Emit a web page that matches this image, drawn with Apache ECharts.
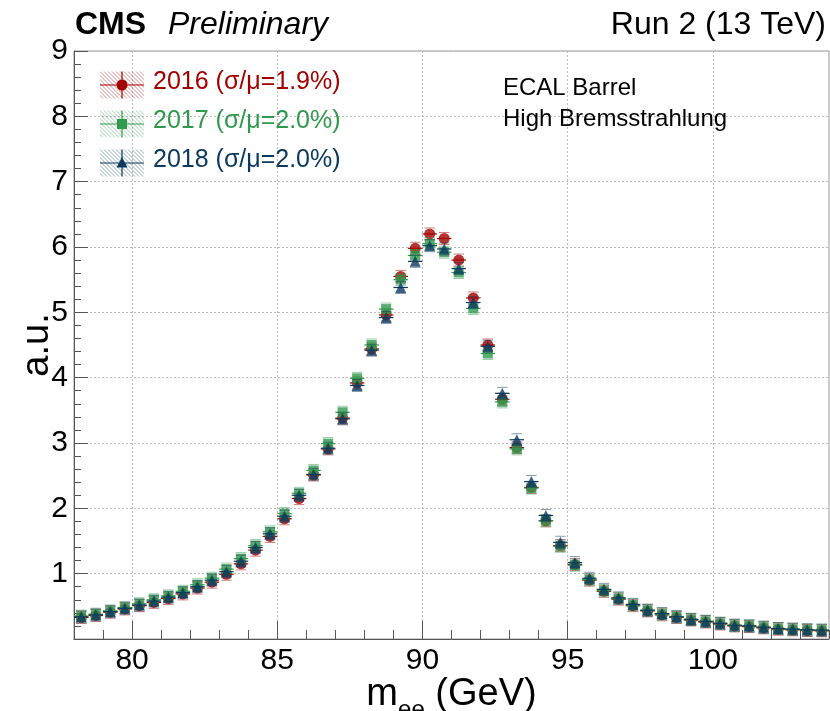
<!DOCTYPE html>
<html><head><meta charset="utf-8">
<script src="https://cdn.jsdelivr.net/npm/echarts@6/dist/echarts.min.js"></script>
<style>html,body{margin:0;padding:0;background:#fff}#c{width:830px;height:711px}</style>
</head><body><div id="c"></div>
<script>
// ---- data ----
const binCenters = [78.25,78.75,79.25,79.75,80.25,80.75,81.25,81.75,82.25,82.75,83.25,83.75,84.25,84.75,85.25,85.75,86.25,86.75,87.25,87.75,88.25,88.75,89.25,89.75,90.25,90.75,91.25,91.75,92.25,92.75,93.25,93.75,94.25,94.75,95.25,95.75,96.25,96.75,97.25,97.75,98.25,98.75,99.25,99.75,100.25,100.75,101.25,101.75,102.25,102.75,103.25,103.75];
const y2016 = [0.33,0.36,0.41,0.46,0.51,0.56,0.62,0.69,0.78,0.87,0.99,1.15,1.36,1.57,1.84,2.15,2.51,2.91,3.38,3.92,4.44,4.96,5.55,5.98,6.20,6.13,5.80,5.22,4.50,3.67,2.93,2.32,1.81,1.43,1.14,0.90,0.73,0.61,0.51,0.43,0.37,0.33,0.29,0.26,0.23,0.20,0.19,0.17,0.15,0.14,0.13,0.125];
const y2017 = [0.35,0.38,0.43,0.48,0.54,0.60,0.66,0.73,0.83,0.93,1.07,1.23,1.43,1.64,1.92,2.23,2.58,2.99,3.47,3.99,4.50,5.05,5.50,5.87,6.05,5.92,5.61,5.06,4.37,3.63,2.91,2.31,1.81,1.42,1.13,0.91,0.74,0.62,0.52,0.44,0.38,0.34,0.30,0.27,0.24,0.21,0.20,0.18,0.16,0.15,0.14,0.135];
const y2018 = [0.34,0.37,0.42,0.47,0.52,0.58,0.64,0.71,0.80,0.90,1.03,1.19,1.40,1.61,1.88,2.20,2.52,2.92,3.37,3.88,4.42,4.92,5.38,5.78,6.02,5.97,5.67,5.15,4.48,3.76,3.05,2.41,1.89,1.48,1.17,0.93,0.76,0.63,0.53,0.44,0.39,0.34,0.30,0.27,0.24,0.21,0.20,0.18,0.16,0.15,0.14,0.135];
const xTickLabels = [80,85,90,95,100];
const yTickLabels = [1,2,3,4,5,6,7,8,9];
const seriesNames = ['2016 (σ/μ=1.9%)','2017 (σ/μ=2.0%)','2018 (σ/μ=2.0%)'];
const binHalfWidth = 0.25;

// ---- style ----
const FONT = '"Liberation Sans", Arial, Helvetica, sans-serif';
const colors = ['#a30000','#2f994c','#0b3a60'];
const symbols = ['circle','rect','triangle'];
const symSizes = [11,10,11];

function pair(ys){ return binCenters.map((x,i)=>[x, ys[i]]); }
const sets = [y2016, y2017, y2018];

function hatch(color){
  const c = document.createElement('canvas'); c.width = 4; c.height = 4;
  const g = c.getContext('2d');
  g.strokeStyle = color; g.globalAlpha = 0.45; g.lineWidth = 1;
  g.beginPath();
  g.moveTo(0,0); g.lineTo(4,4);
  g.moveTo(-1,3); g.lineTo(1,5);
  g.moveTo(3,-1); g.lineTo(5,1);
  g.stroke();
  return c;
}

const series = [];
sets.forEach((ys, k)=>{
  const col = colors[k];
  series.push({
    type:'custom', name: seriesNames[k] + ' err', xAxisIndex:0, yAxisIndex:0, z: 2*k+1,
    silent:true, animation:false,
    data: pair(ys),
    renderItem(params, api){
      const x = api.value(0), y = api.value(1);
      const a = api.coord([x - binHalfWidth, y]);
      const b = api.coord([x + binHalfWidth, y]);
      const c = api.coord([x, y]);
      return { type:'group', children:[
        {type:'line', shape:{x1:a[0], y1:a[1], x2:b[0], y2:b[1]}, style:{stroke:col, lineWidth:1.2}},
        {type:'line', shape:{x1:a[0]+2, y1:c[1]-6, x2:b[0]-2, y2:c[1]-6}, style:{stroke:col, lineWidth:1, opacity:0.5}},
        {type:'line', shape:{x1:a[0]+2, y1:c[1]+6, x2:b[0]-2, y2:c[1]+6}, style:{stroke:col, lineWidth:1, opacity:0.5}}
      ]};
    }
  });
  series.push({
    type:'scatter', name: seriesNames[k], xAxisIndex:0, yAxisIndex:0, z: 2*k+2,
    symbol: symbols[k], symbolSize: symSizes[k], animation:false,
    itemStyle:{color:col},
    data: pair(ys)
  });
});

// legend graphics
const graphic = [];
const legendX = 100, legendW = 44, legendH = 27;
const legendYs = [85, 124, 163];
seriesNames.forEach((nm,k)=>{
  const cy = legendYs[k], col = colors[k];
  graphic.push({type:'rect', left:legendX, top:cy-legendH/2, shape:{width:legendW, height:legendH},
    style:{fill:{image:hatch(col), repeat:'repeat'}}, z:10});
  graphic.push({type:'line', shape:{x1:legendX, y1:cy, x2:legendX+legendW, y2:cy}, style:{stroke:col, lineWidth:1.2}, z:11});
  graphic.push({type:'line', shape:{x1:legendX+legendW/2, y1:cy-legendH/2, x2:legendX+legendW/2, y2:cy+legendH/2}, style:{stroke:col, lineWidth:1.2}, z:11});
  const mx = legendX + legendW/2;
  if(k===0) graphic.push({type:'circle', shape:{cx:mx, cy:cy, r:5.5}, style:{fill:col}, z:12});
  if(k===1) graphic.push({type:'rect', shape:{x:mx-5, y:cy-5, width:10, height:10}, style:{fill:col}, z:12});
  if(k===2) graphic.push({type:'polygon', shape:{points:[[mx,cy-6],[mx+5.5,cy+4.5],[mx-5.5,cy+4.5]]}, style:{fill:col}, z:12});
  graphic.push({type:'text', left:153, top:cy-15, style:{text:nm, font:'25px '+FONT, fill:col, verticalAlign:'top'}, z:12});
});
graphic.push({type:'text', left:503, top:76, style:{text:'ECAL Barrel', font:'24px '+FONT, fill:'#000'}, z:12});
graphic.push({type:'text', left:503, top:107, style:{text:'High Bremsstrahlung', font:'24px '+FONT, fill:'#000'}, z:12});
graphic.push({type:'text', left:75, top:9, style:{text:'CMS', font:'bold 32px '+FONT, fill:'#000'}, z:12});
graphic.push({type:'text', left:168, top:9, style:{text:'Preliminary', font:'italic 32px '+FONT, fill:'#000'}, z:12});
graphic.push({type:'text', right:4, top:9, style:{text:'Run 2 (13 TeV)', font:'32px '+FONT, fill:'#000'}, z:12});

const chart = echarts.init(document.getElementById('c'), null, {renderer:'canvas'});
chart.setOption({
  backgroundColor:'#fff',
  animation:false,
  grid:{left:74, right:1, top:51, bottom:72, show:true, borderColor:'#999', borderWidth:1, containLabel:false, outerBoundsMode:'none'},
  xAxis:[
    {type:'value', min:78, max:104, interval:1, position:'bottom',
     axisLine:{show:true, lineStyle:{color:'#555', width:1}},
     axisTick:{show:true, inside:true, length:9, lineStyle:{color:'#555'}},
     axisLabel:{show:false}, splitLine:{show:false}},
    {type:'value', min:78, max:104, position:'bottom',
     axisLine:{show:false},
     axisTick:{show:true, inside:true, length:18, customValues:xTickLabels, lineStyle:{color:'#555'}},
     axisLabel:{show:true, customValues:xTickLabels, fontSize:30, color:'#000', fontFamily:FONT, margin:7},
     splitLine:{show:true, lineStyle:{color:'#bbb', type:[2,2], width:1}},
     name:'{m|m}{s|ee}{m|\u00a0(GeV)}', nameLocation:'middle', nameGap:37, nameMoveOverlap:false,
     nameTextStyle:{fontFamily:FONT, rich:{m:{fontSize:38, fontFamily:FONT, color:'#000', verticalAlign:'bottom'}, s:{fontSize:24, fontFamily:FONT, color:'#000', verticalAlign:'bottom', padding:[0,0,-8,0]}}}}
  ],
  yAxis:{type:'value', min:0, max:9, interval:1,
     axisLine:{show:true, lineStyle:{color:'#555', width:1}},
     axisTick:{show:true, inside:true, length:14, lineStyle:{color:'#555'}},
     minorTick:{show:true, splitNumber:5, length:7, lineStyle:{color:'#555'}},
     axisLabel:{fontSize:30, color:'#000', fontFamily:FONT, margin:6,
       formatter:v=> yTickLabels.indexOf(v)>=0 ? String(v) : ''},
     splitLine:{show:true, lineStyle:{color:'#bbb', type:[2,2], width:1}},
     name:'a.u.', nameLocation:'middle', nameGap:17, nameRotate:90, nameMoveOverlap:false,
     nameTextStyle:{fontSize:38, fontFamily:FONT, color:'#000'}},
  graphic: graphic,
  series: series
});
</script></body></html>
